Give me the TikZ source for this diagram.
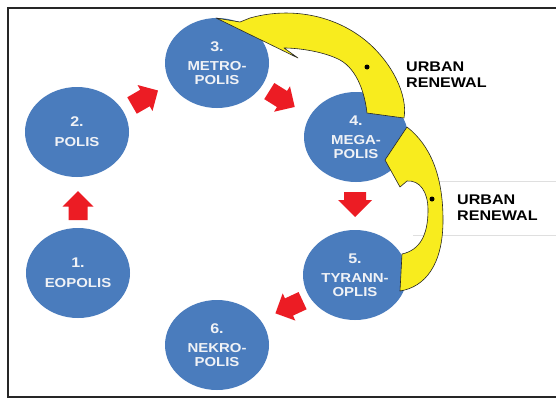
\documentclass[tikz,border=0pt]{standalone}
\usepackage{fontspec}
\setmainfont{Liberation Sans}
\newfontfamily\lblf[FakeStretch=1.15]{Liberation Sans}
\usetikzlibrary{shapes.geometric}
\definecolor{cblue}{RGB}{74,124,189}
\definecolor{cred}{RGB}{236,28,36}
\definecolor{cyel}{RGB}{248,236,30}
\definecolor{ctext}{RGB}{240,242,246}
\tikzset{
  city/.style={ellipse, fill=cblue, minimum width=104pt, minimum height=90pt,
    inner sep=0pt, text=ctext, align=center,
    font=\lblf\bfseries\fontsize{13}{14}\selectfont},
  pics/blockarr/.style n args={3}{code={
    \fill[cred] ({-#1/2},{-#2/2}) -- ({#1/2-#3/2},{-#2/2}) -- ({#1/2-#3/2},{-#3/2})
      -- ({#1/2},0) -- ({#1/2-#3/2},{#3/2}) -- ({#1/2-#3/2},{#2/2})
      -- ({-#1/2},{#2/2}) -- cycle;}},
  renew/.style={fill=cyel, draw=black!85, line width=0.6pt, line join=round},
  lbl/.style={anchor=west, align=left, inner sep=0pt,
    font=\lblf\bfseries\fontsize{14}{16}\selectfont},
  frameline/.style={line width=1.8pt, draw=black!85},
  faint/.style={draw=gray!25, line width=0.5pt}
}
\newcommand{\numtxt}[1]{{\fontsize{14}{14}\selectfont #1}}
\begin{document}
\begin{tikzpicture}[x=1pt,y=-1pt]
\useasboundingbox (0,0) rectangle (556,399);
\fill[white] (0,0) rectangle (556,399);
% frame
\draw[frameline] (556,8) -- (8,8) -- (8,397) -- (556,397);
% faint box lines near lower label
\draw[faint] (413,181) -- (556,181);
\draw[faint] (413,235) -- (556,235);
% cities
\node[city] (c1) at (78,273) {\numtxt{1.}\\[6pt]EOPOLIS};
\node[city] (c2) at (77,132) {\numtxt{2.}\\[6pt]POLIS};
\node[city] (c3) at (217,63) {\numtxt{3.}\\[5pt]METRO-\\POLIS};
\node[city] (c4) at (356,137) {\numtxt{4.}\\[5pt]MEGA-\\POLIS};
\node[city] (c5) at (355,275) {\numtxt{5.}\\[5pt]TYRANN-\\OPLIS};
\node[city] (c6) at (217,345) {\numtxt{6.}\\[5pt]NEKRO-\\POLIS};
% red block arrows
\pic[rotate=90] (a12) at (78,205.5) {blockarr={29}{19}{31}};
\pic[rotate=30] (a23) at (145,98) {blockarr={30}{19}{30}};
\pic[rotate=-32] (a34) at (282,99) {blockarr={30}{19}{30}};
\pic[rotate=-90] (a45) at (355,204.5) {blockarr={25}{22}{34}};
\pic[rotate=205] (a56) at (289,307) {blockarr={30}{19}{30}};
% yellow arrow: megapolis -> metropolis
\draw[renew] (216,18) -- (240,22) -- (250,18)
  .. controls (285,8) and (330,12) .. (365,40)
  .. controls (392,62) and (408,95) .. (404,118)
  -- (367,113)
  .. controls (365,95) and (358,70) .. (340,60)
  .. controls (325,52) and (300,48) .. (284,48)
  -- (298,58) -- cycle;
\fill (367,67) circle (2.5pt);
% yellow arrow: tyrannoplis -> megapolis
\draw[renew] (385,160) -- (400,187) -- (407,181)
  .. controls (420,180) and (428,192) .. (428,210)
  .. controls (428,235) and (420,250) .. (402,254)
  -- (400,291)
  .. controls (425,287) and (443,265) .. (443,220)
  .. controls (443,175) and (430,145) .. (407,127)
  -- cycle;
\fill (432,199) circle (2.5pt);
% labels
\node[lbl] (u1) at (406,75) {URBAN\\RENEWAL};
\node[lbl] (u2) at (457,208) {URBAN\\RENEWAL};
\end{tikzpicture}
\end{document}
